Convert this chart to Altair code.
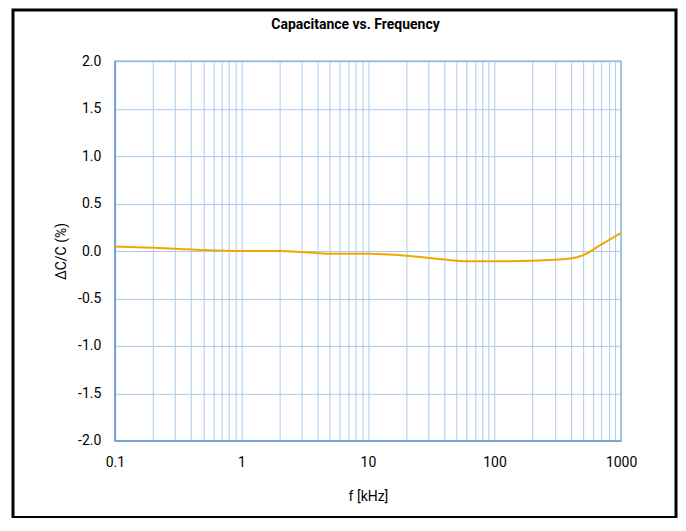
import altair as alt
import pandas as pd

freq_khz = [0.1, 0.2, 0.3, 0.5, 1, 2, 3, 5, 10, 20, 40, 60, 100, 200, 400, 500, 700, 1000]
delta_c = [0.047, 0.035, 0.025, 0.01, 0.0, 0.0, -0.01, -0.03, -0.03, -0.05, -0.09, -0.108, -0.108, -0.103, -0.08, -0.045, 0.07, 0.19]

x_grid = [m * 10 ** e for e in range(-1, 3) for m in range(1, 10)] + [1000]
x_grid = [round(v, 6) for v in x_grid]
y_ticks = [-2.0, -1.5, -1.0, -0.5, 0.0, 0.5, 1.0, 1.5, 2.0]
title_text = "Capacitance vs. Frequency"

df = pd.DataFrame({"f": freq_khz, "dc": delta_c})

GRID = "#A9CBEB"
DOMAIN = "#6F9FD6"
FONT = "Roboto"

line = alt.Chart(df).mark_line(color="#F0A800", strokeWidth=2, interpolate="monotone").encode(
    x=alt.X("f:Q", scale=alt.Scale(type="log", domain=[0.1, 1000]),
            axis=alt.Axis(values=x_grid, title="f [kHz]",
                          labelExpr="abs(log(datum.value)/LN10 - round(log(datum.value)/LN10)) < 1e-6 ? format(datum.value, '~g') : ''",
                          grid=True, gridColor=GRID, ticks=False, labelPadding=15,
                          domainColor=DOMAIN, titlePadding=20, labelFlush=False)),
    y=alt.Y("dc:Q", scale=alt.Scale(domain=[-2, 2]),
            axis=alt.Axis(values=y_ticks, title="ΔC/C (%)",
                          labelExpr="datum.value < 0 ? '-' + format(-datum.value, '.1f') : format(datum.value, '.1f')",
                          grid=True, gridColor=GRID, ticks=False, labelPadding=14,
                          domainColor=DOMAIN, titlePadding=9)),
)

border = alt.Chart(pd.DataFrame({"a": [0]})).mark_rect(
    fillOpacity=0, stroke="black", strokeWidth=3
).encode(x=alt.value(-102), x2=alt.value(562), y=alt.value(-51.5), y2=alt.value(457))

title = alt.Chart(pd.DataFrame({"t": [title_text]})).mark_text(
    font=FONT, fontSize=14, fontWeight="bold", color="black", align="center", baseline="middle"
).encode(text="t:N", x=alt.value(241), y=alt.value(-36))

chart = alt.layer(line, border, title).properties(
    width=507, height=380,
    autosize=alt.AutoSizeParams(type="none"),
    padding={"left": 107, "top": 53, "right": 57, "bottom": 77},
).configure_view(stroke=DOMAIN, strokeWidth=1.5).configure_axis(
    labelFont=FONT, titleFont=FONT, labelFontSize=14, titleFontSize=14,
    labelColor="black", titleColor="black", titleFontWeight="normal", domainWidth=1.5
)

chart.save("out.html", embed_options={"renderer": "svg", "actions": False})
